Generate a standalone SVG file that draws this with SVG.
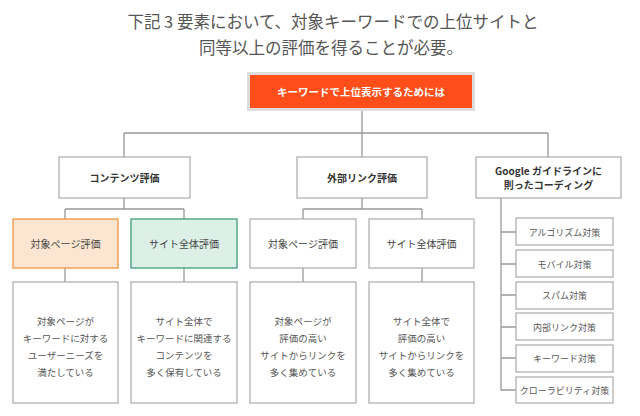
<svg xmlns="http://www.w3.org/2000/svg" width="640" height="416" viewBox="0 0 640 416">
<style>
text{font-family:"Noto Sans CJK JP","Noto Sans",sans-serif;text-anchor:middle;dominant-baseline:central}
.title{font-size:16.5px;fill:#555}
.box{fill:#fff;stroke:#aaa;stroke-width:1.2}
.b2{font-size:10px;fill:#333;font-weight:bold}
.t3{font-size:10px;fill:#444}
.t4{font-size:9.5px;fill:#555}
.t5{font-size:9px;fill:#555}
.con{fill:none;stroke:#999;stroke-width:1.3}
</style>
<rect width="640" height="416" fill="#fff"/>
<g id="title">
<text class="title" x="333" y="21">下記 3 要素において、対象キーワードでの上位サイトと</text>
<text class="title" x="331" y="47">同等以上の評価を得ることが必要。</text>
</g>
<g id="connectors">
<path class="con" d="M362 109V157M124 133H548M124 133V157M548 133V157"/>
<path class="con" d="M124 198V209M65 209H184M65 209V219M184 209V219"/>
<path class="con" d="M362 198V209M303 209H422M303 209V219M422 209V219"/>
<path class="con" d="M65 268V282M184 268V282M303 268V282M422 268V282"/>
<path class="con" d="M501 198V390H516M501 232H516M501 264H516M501 295H516M501 327H516M501 358H516"/>
</g>
<g id="root">
<rect x="248.5" y="73.5" width="225" height="36" fill="#FF4E1A" stroke="#ddd" stroke-width="3"/>
<text x="361" y="91.5" font-size="10.5" font-weight="bold" fill="#fff">キーワードで上位表示するためには</text>
</g>
<g id="content">
<rect class="box" x="59" y="157" width="131" height="41"/>
<text class="b2" x="124.5" y="177.5">コンテンツ評価</text>
</g>
<g id="external">
<rect class="box" x="297" y="157" width="130" height="41"/>
<text class="b2" x="362" y="177.5">外部リンク評価</text>
</g>
<g id="google">
<rect class="box" x="476" y="157" width="145" height="41"/>
<text class="b2" x="548.5" y="170">Google ガイドラインに</text>
<text class="b2" x="548.5" y="184.5">則ったコーディング</text>
</g>
<g id="c-page">
<rect x="13" y="219" width="105" height="49" fill="#FCE6D1" stroke="#F2923E" stroke-width="1.3"/>
<text class="t3" x="65.5" y="243.5">対象ページ評価</text>
</g>
<g id="c-site">
<rect x="131" y="219" width="106" height="49" fill="#DDF0E8" stroke="#3E9E78" stroke-width="1.3"/>
<text class="t3" x="184" y="243.5">サイト全体評価</text>
</g>
<g id="e-page">
<rect class="box" x="250" y="219" width="106" height="49"/>
<text class="t3" x="303" y="243.5">対象ページ評価</text>
</g>
<g id="e-site">
<rect class="box" x="369" y="219" width="105" height="49"/>
<text class="t3" x="421.5" y="243.5">サイト全体評価</text>
</g>
<g id="c-page-d">
<rect class="box" x="13" y="282" width="105" height="121"/>
<text class="t4" x="65.5" y="321">対象ページが</text>
<text class="t4" x="65.5" y="338">キーワードに対する</text>
<text class="t4" x="65.5" y="355">ユーザーニーズを</text>
<text class="t4" x="65.5" y="372">満たしている</text>
</g>
<g id="c-site-d">
<rect class="box" x="131" y="282" width="106" height="121"/>
<text class="t4" x="184" y="321">サイト全体で</text>
<text class="t4" x="184" y="338">キーワードに関連する</text>
<text class="t4" x="184" y="355">コンテンツを</text>
<text class="t4" x="184" y="372">多く保有している</text>
</g>
<g id="e-page-d">
<rect class="box" x="250" y="282" width="106" height="121"/>
<text class="t4" x="303" y="321">対象ページが</text>
<text class="t4" x="303" y="338">評価の高い</text>
<text class="t4" x="303" y="355">サイトからリンクを</text>
<text class="t4" x="303" y="372">多く集めている</text>
</g>
<g id="e-site-d">
<rect class="box" x="369" y="282" width="105" height="121"/>
<text class="t4" x="421.5" y="321">サイト全体で</text>
<text class="t4" x="421.5" y="338">評価の高い</text>
<text class="t4" x="421.5" y="355">サイトからリンクを</text>
<text class="t4" x="421.5" y="372">多く集めている</text>
</g>
<g id="g1"><rect class="box" x="516" y="218" width="97" height="27"/><text class="t5" x="564.5" y="232">アルゴリズム対策</text></g>
<g id="g2"><rect class="box" x="516" y="250" width="97" height="27"/><text class="t5" x="564.5" y="264">モバイル対策</text></g>
<g id="g3"><rect class="box" x="516" y="282" width="97" height="27"/><text class="t5" x="564.5" y="295">スパム対策</text></g>
<g id="g4"><rect class="box" x="516" y="313" width="97" height="27"/><text class="t5" x="564.5" y="327">内部リンク対策</text></g>
<g id="g5"><rect class="box" x="516" y="345" width="97" height="27"/><text class="t5" x="564.5" y="358">キーワード対策</text></g>
<g id="g6"><rect class="box" x="516" y="377" width="97" height="26"/><text class="t5" x="564.5" y="390">クローラビリティ対策</text></g>
</svg>
